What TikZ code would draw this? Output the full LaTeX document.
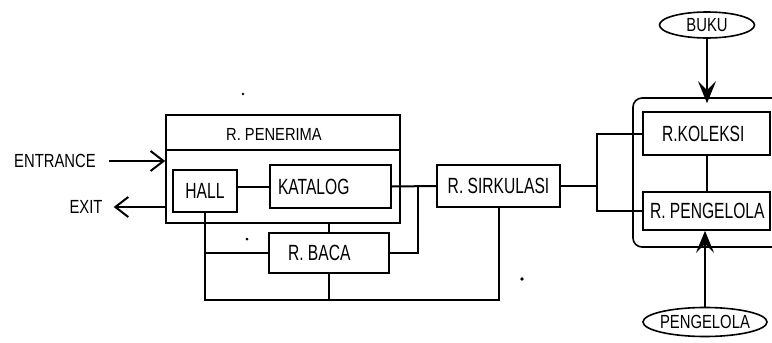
\documentclass[tikz,border=0pt]{standalone}
\usepackage{fontspec}
\setmainfont{Liberation Sans}
\newfontfamily\roomfont{Liberation Sans}[FakeStretch=0.71]
\newfontfamily\headfont{Liberation Sans}[FakeStretch=0.84]
\newfontfamily\lblfont{Liberation Sans}[FakeStretch=0.78]
\usetikzlibrary{arrows.meta,shapes.geometric}
\tikzset{
  room/.style={draw, line width=1.6pt, inner sep=0pt, font=\roomfont\fontsize{22}{24}\selectfont},
  lbl/.style={inner sep=0pt, font=\lblfont\fontsize{19}{21}\selectfont},
  ell/.style={draw, ellipse, line width=1.6pt, inner sep=0pt, font=\lblfont\fontsize{19}{21}\selectfont},
  con/.style={line width=2pt},
  openarr/.style={line width=2pt, -{Straight Barb[length=13pt,width=20pt,line width=2pt]}},
  fillarr/.style={line width=2pt, -{Stealth[length=22pt,width=18pt,inset=9pt]}},
}
\begin{document}
\begin{tikzpicture}[x=1pt,y=-1pt]
\useasboundingbox (0,0) rectangle (772,343);
\clip (0,0) rectangle (772,343);
% R. PENERIMA group
\node[room, minimum width=234, minimum height=108] (pen) at (283,169) {};
\draw[line width=1.6pt] ([yshift=-36pt]pen.north west) -- ([yshift=-36pt]pen.north east);
\node[inner sep=0pt, font=\headfont\fontsize{17.5}{19}\selectfont] (penl) at (274,134) {R. PENERIMA};
\node[room, minimum width=64, minimum height=42] (hall) at (205,191) {HALL};
\node[room, minimum width=121, minimum height=43, inner xsep=8pt] (kat) at (330.5,186.5) {\makebox[105pt][l]{KATALOG}};
\node[room, minimum width=120, minimum height=40, inner xsep=19pt] (baca) at (329,253) {\makebox[82pt][l]{R. BACA}};
\node[room, minimum width=123, minimum height=42] (sirk) at (498.5,186) {R. SIRKULASI};
% collection group
\node[draw, line width=1.6pt, rounded corners=9pt, minimum width=167, minimum height=149] (grp) at (716.5,172.5) {};
\node[room, minimum width=127, minimum height=43, inner xsep=19pt] (kol) at (706.5,133.5) {\makebox[89pt][l]{R.KOLEKSI}};
\node[room, minimum width=127, minimum height=38, inner xsep=7pt] (peng) at (706.5,211) {\makebox[113pt][l]{R. PENGELOLA}};
\node[ell, minimum width=95, minimum height=26] (buku) at (707,25) {\makebox[0pt]{BUKU}};
\node[ell, minimum width=124, minimum height=29] (pgl) at (705,322) {\makebox[0pt]{PENGELOLA}};
% labels
\node[lbl] (ent) at (55,161) {ENTRANCE};
\node[lbl] (exit) at (86,207) {EXIT};
% connectors
\draw[openarr] ([xshift=13pt]ent.east) -- (ent.east -| pen.west);
\draw[openarr] (pen.west |- exit) -- ([xshift=11pt]exit.east);
\draw[con] (kat.west) -- (kat.west -| hall.east);
\draw[con] (baca.north) -- (baca.north |- pen.south);
\coordinate (j1) at (418,186.5);
\draw[con] (kat.east) -- (sirk.west);
\draw[con] (j1) |- (baca.east);
\coordinate (b1) at (205,300);
\draw[con] (hall.south) -- (b1) -| (sirk.south);
\draw[con] (hall.south |- baca.west) -- (baca.west);
\draw[con] (baca.south) -- (baca.south |- b1);
\coordinate (j2) at (597,186);
\draw[con] (sirk.east) -- (j2);
\draw[con] (kol.west) -- (kol.west -| j2) -- (peng.west -| j2) -- (peng.west);
\draw[con] (kol.south) -- (peng.north);
\draw[fillarr] (buku.south) -- ([yshift=-6pt]buku.south |- grp.north);
\draw[fillarr] (pgl.north) -- (pgl.north |- peng.south);
% scan specks
\fill (243,94) circle (1.3pt);
\fill (247,239) circle (1.5pt);
\fill (522,279) circle (1.8pt);
\end{tikzpicture}
\end{document}
